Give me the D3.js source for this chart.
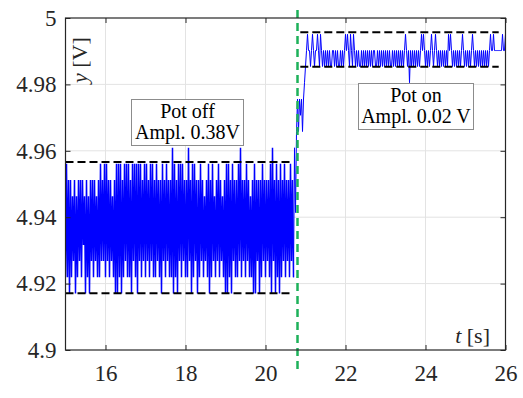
<!DOCTYPE html>
<html>
<head>
<meta charset="utf-8">
<script src="https://cdn.jsdelivr.net/npm/d3@7"></script>
<style>
html,body{margin:0;padding:0;background:#fff;}
svg{display:block;font-family:"Liberation Serif","Times New Roman",serif;}
</style>
</head>
<body>
<svg id="vis" width="523" height="398"></svg>
<script>
// logged output, sampled every 25 ms from t = 15 s
var t0 = 15,
	dt = 0.025;

// adc levels [V] while the pot is off, the digits below pick one
var offLevels = [4.9170, 4.9219, 4.9268, 4.9316, 4.9365, 4.9414, 4.9463, 4.9512, 4.9561, 4.9609];
var offCodes =
	"18170716270617271736 07160727172617182728 18271726170808180718 28181708281808281728 " +
	"18271828171827170827 18271719081708281827 17192708182707182716 27180718261728172617 " +
	"08081708271718291727 18271617080727071827 17271809270817081728 17271827";

// the step after the pot is switched [V]
var stepValues = [4.9219, 4.9609, 4.9414, 4.9658, 4.9756, 4.9658, 4.9756, 4.9707, 4.9756, 4.9658, 4.9756, 4.9805, 4.9854];

// adc levels [V] while the pot is on
var onLevels = [4.9805, 4.9854, 4.9902, 4.9951];
var onCodes =
	"23221232122321321212 12121122121211212123 23213213212121121212 12121212211212121212 " +
	"12121121212121212123 21202121212121232321 21212321232121212121 21323212121212123212 " +
	"12121232121212121212 12123223222222223223";

var xTicks = [16, 18, 20, 22, 24, 26];
var yTicks = [4.9, 4.92, 4.94, 4.96, 4.98, 5];

// dashed bounds: [t start, t end, low, high]
var offBounds = [15, 20.62, 4.9171, 4.9566];
var onBounds = [20.87, 25.83, 4.9853, 4.9957];
var switchTime = 20.8;

var offNote = ['Pot off', 'Ampl. 0.38V'];
var onNote = ['Pot on', 'Ampl. 0.02 V'];

window.onload = function(){

	return {

		w:523,
		h:398,

		left:65.5,
		right:505.5,
		top:18,
		bottom:350,

		nOff:0,

		build:function(){
			var self = this,
				samples = [];
			offCodes.replace(/\s/g,'').split('').forEach(function(c){ samples.push(offLevels[+c]); });
			self.nOff = samples.length;
			stepValues.forEach(function(v){ samples.push(v); });
			onCodes.replace(/\s/g,'').split('').forEach(function(c){ samples.push(onLevels[+c]); });
			return samples.map(function(v,i){ return {t:t0 +i*dt, v:v}; });
		},
		generate:function(){
			var self = this,
				data = self.build();

			var svg = d3.select('#vis');

			var x = d3.scaleLinear().domain([15,26]).range([self.left,self.right]),
				y = d3.scaleLinear().domain([4.9,5]).range([self.bottom,self.top]);

			svg.append('defs').append('clipPath')
				.attr('id','plotClip')
				.append('rect')
				.attr('x',self.left)
				.attr('y',self.top)
				.attr('width',self.right -self.left)
				.attr('height',self.bottom -self.top);

			// grid
			var grid = svg.append('g').attr('stroke','#e3e3e3').attr('stroke-width',1);
			grid.selectAll('line.gx')
				.data(xTicks.slice(0,-1))
				.enter().append('line')
				.classed('gx',true)
				.attr('x1',function(d){ return x(d); })
				.attr('x2',function(d){ return x(d); })
				.attr('y1',self.top)
				.attr('y2',self.bottom);
			grid.selectAll('line.gy')
				.data(yTicks.slice(1,-1))
				.enter().append('line')
				.classed('gy',true)
				.attr('y1',function(d){ return y(d); })
				.attr('y2',function(d){ return y(d); })
				.attr('x1',self.left)
				.attr('x2',self.right);

			// signal -- the noisy part is packed so tight it reads as a band
			var line = d3.line()
				.x(function(d){ return x(d.t); })
				.y(function(d){ return y(d.v); });
			var parts = [
				{pts:data.slice(0,self.nOff +1), sw:1.5},
				{pts:data.slice(self.nOff), sw:1}
			];
			svg.selectAll('path.sig')
				.data(parts)
				.enter().append('path')
				.classed('sig',true)
				.attr('clip-path','url(#plotClip)')
				.attr('fill','none')
				.attr('stroke','#0000ff')
				.attr('stroke-width',function(d){ return d.sw; })
				.attr('d',function(d){ return line(d.pts); });

			// dashed bounds
			var bounds = [];
			[offBounds,onBounds].forEach(function(b){
				bounds.push([b[0],b[1],b[2]]);
				bounds.push([b[0],b[1],b[3]]);
			});
			svg.selectAll('line.bound')
				.data(bounds)
				.enter().append('line')
				.classed('bound',true)
				.attr('x1',function(d){ return x(d[0]); })
				.attr('x2',function(d){ return x(d[1]); })
				.attr('y1',function(d){ return y(d[2]); })
				.attr('y2',function(d){ return y(d[2]); })
				.attr('stroke','#000')
				.attr('stroke-width',2)
				.attr('stroke-dasharray','8,4');

			// switching instant
			svg.append('line')
				.attr('x1',x(switchTime))
				.attr('x2',x(switchTime))
				.attr('y1',y(5.0024))
				.attr('y2',y(4.894))
				.attr('stroke','#1db15a')
				.attr('stroke-width',2.5)
				.attr('stroke-dasharray','8,5');

			// axes, ticks pointing inwards
			var fmt = function(d){ return d3.format('')(+d.toFixed(2)); };
			var gB = svg.append('g')
				.attr('transform','translate(0,' +self.bottom +')')
				.call(d3.axisBottom(x).tickValues(xTicks).tickSize(-5).tickPadding(15).tickFormat(fmt));
			var gL = svg.append('g')
				.attr('transform','translate(' +self.left +',0)')
				.call(d3.axisLeft(y).tickValues(yTicks).tickSize(-5).tickPadding(9).tickFormat(fmt));
			var gT = svg.append('g')
				.attr('transform','translate(0,' +self.top +')')
				.call(d3.axisTop(x).tickValues(xTicks).tickSize(-5).tickFormat(''));
			var gR = svg.append('g')
				.attr('transform','translate(' +self.right +',0)')
				.call(d3.axisRight(y).tickValues(yTicks).tickSize(-5).tickFormat(''));
			[gB,gL,gT,gR].forEach(function(g){
				g.select('.domain').remove();
				g.selectAll('line').attr('stroke','#262626');
				g.selectAll('text')
					.attr('fill','#262626')
					.style('font-family','"Liberation Serif","Times New Roman",serif')
					.style('font-size','23px');
			});
			svg.append('rect')
				.attr('x',self.left)
				.attr('y',self.top)
				.attr('width',self.right -self.left)
				.attr('height',self.bottom -self.top)
				.attr('fill','none')
				.attr('stroke','#262626')
				.attr('stroke-width',1.2);

			// note boxes
			var notes = [
				{lines:offNote, x:131, y:99, w:112, h:46},
				{lines:onNote, x:358, y:83, w:115, h:46}
			];
			var nG = svg.selectAll('g.note')
				.data(notes)
				.enter().append('g')
				.classed('note',true)
				.attr('transform',function(d){ return 'translate(' +d.x +',' +d.y +')'; });
			nG.append('rect')
				.attr('x',0.5)
				.attr('y',0.5)
				.attr('width',function(d){ return d.w; })
				.attr('height',function(d){ return d.h; })
				.attr('fill','#fff')
				.attr('stroke','#8c8c8c')
				.attr('stroke-width',1);
			nG.selectAll('text')
				.data(function(d){ return d.lines.map(function(s){ return {s:s, w:d.w}; }); })
				.enter().append('text')
				.attr('x',function(d){ return d.w/2 +0.5; })
				.attr('y',function(d,i){ return 18.5 +i*21; })
				.attr('text-anchor','middle')
				.attr('fill','#000')
				.style('font-size','20px')
				.text(function(d){ return d.s; });

			// axis labels
			var yl = svg.append('text')
				.attr('transform','translate(87,83) rotate(-90)')
				.attr('fill','#262626')
				.style('font-size','22px');
			yl.append('tspan').style('font-style','italic').text('y');
			yl.append('tspan').text(' [V]');

			var xl = svg.append('text')
				.attr('x',490)
				.attr('y',343)
				.attr('text-anchor','end')
				.attr('fill','#262626')
				.style('font-size','22px');
			xl.append('tspan').style('font-style','italic').text('t');
			xl.append('tspan').text(' [s]');
		}
	}
}().generate();
</script>
</body>
</html>
